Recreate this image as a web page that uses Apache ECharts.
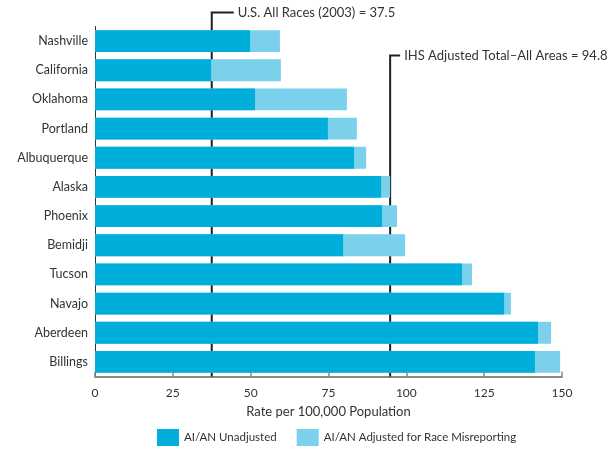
<!DOCTYPE html>
<html>
<head>
<meta charset="utf-8">
<script src="https://cdn.jsdelivr.net/npm/echarts@6/dist/echarts.min.js"></script>
<style>
  html, body { margin: 0; padding: 0; background: #fff; }
  #chart { width: 610px; height: 449px; }
</style>
</head>
<body>
<div id="chart"></div>
<script>
// IHS areas, top to bottom
const areas = ['Nashville', 'California', 'Oklahoma', 'Portland', 'Albuquerque', 'Alaska',
               'Phoenix', 'Bemidji', 'Tucson', 'Navajo', 'Aberdeen', 'Billings'];
// Rate per 100,000 population
const unadjusted = [49.8, 37.3, 51.4, 74.8, 83.2, 91.9, 92.2, 79.7, 117.9, 131.4, 142.3, 141.3];
const adjusted   = [59.4, 59.7, 80.9, 84.1, 87.1, 94.8, 97.0, 99.6, 121.1, 133.6, 146.5, 149.4];
// Reference rates
const refValues = [37.5, 94.8];
const refLabels = ['U.S. All Races (2003) = 37.5', 'IHS Adjusted Total\u2013All Areas = 94.8'];
const xTicks = { min: 0, max: 150, interval: 25 };

const FONT = 'Lato';
const TEXT = '#333333';
const DARK = '#00aedb';
const LIGHT = '#7bd0eb';

const chart = echarts.init(document.getElementById('chart'));

// vertical offset of each reference bracket relative to the plot top
const bracketOffsets = [-14, 29];

chart.setOption({
  animation: false,
  textStyle: { fontFamily: FONT },
  grid: { left: 95, right: 48, top: 26.5, bottom: 72.5 },
  legend: {
    left: 157, top: 429, padding: 0,
    itemWidth: 22, itemHeight: 17, itemGap: 20,
    textStyle: { fontFamily: FONT, fontSize: 11.5, color: TEXT },
    icon: 'rect',
    data: ['AI/AN Unadjusted', 'AI/AN Adjusted for Race Misreporting']
  },
  xAxis: {
    type: 'value',
    min: xTicks.min, max: xTicks.max, interval: xTicks.interval,
    name: 'Rate per 100,000 Population',
    nameLocation: 'middle', nameGap: 29,
    nameTextStyle: { fontFamily: FONT, fontSize: 13, color: TEXT },
    axisLine: { show: true, lineStyle: { color: '#8a8a8a', width: 2 } },
    axisTick: { show: true, inside: true, length: 5, lineStyle: { color: '#8a8a8a', width: 1.5 } },
    axisLabel: { fontFamily: FONT, fontSize: 12, color: TEXT, margin: 11 },
    splitLine: { show: false }
  },
  yAxis: {
    type: 'category',
    data: areas,
    inverse: true,
    axisLine: { show: true, lineStyle: { color: '#333', width: 1 } },
    axisTick: { show: false },
    axisLabel: { fontFamily: FONT, fontSize: 12.5, color: TEXT, margin: 7 }
  },
  series: [
    {
      name: 'AI/AN Adjusted for Race Misreporting',
      type: 'bar', data: adjusted,
      barWidth: '75%', barGap: '-100%',
      itemStyle: { color: LIGHT }
    },
    {
      name: 'AI/AN Unadjusted',
      type: 'bar', data: unadjusted,
      barWidth: '75%', barGap: '-100%',
      itemStyle: { color: DARK }
    },
    {
      type: 'custom',
      clip: false,
      silent: true,
      data: refValues.map((v, i) => [v, i]),
      renderItem: function (params, api) {
        const cs = params.coordSys;
        const i = params.dataIndex;
        const x = api.coord([api.value(0), 0])[0];
        const yBottom = cs.y + cs.height;
        const yTop = cs.y + bracketOffsets[i];
        const arm = i === 0 ? 22 : 10;
        return {
          type: 'group',
          children: [
            {
              type: 'polyline',
              shape: { points: [[x, yBottom], [x, yTop], [x + arm, yTop]] },
              style: { stroke: '#231f20', lineWidth: 2, fill: null }
            },
            {
              type: 'text',
              x: x + arm + 4, y: yTop,
              style: {
                text: refLabels[i],
                fontFamily: FONT, fontSize: 13, fill: TEXT,
                verticalAlign: 'middle', align: 'left'
              }
            }
          ]
        };
      }
    }
  ]
});
</script>
</body>
</html>
